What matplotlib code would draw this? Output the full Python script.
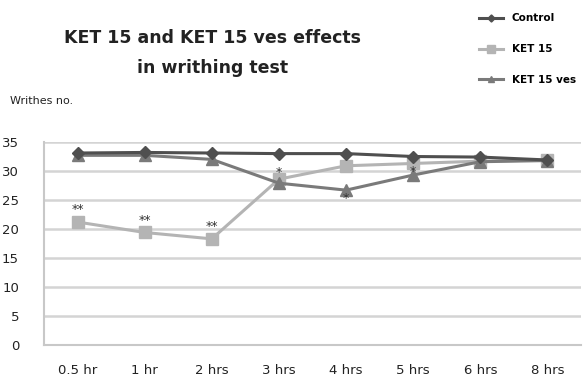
import numpy as np
import matplotlib.pyplot as plt

times = ["0.5 hr", "1 hr", "2 hrs", "3 hrs", "4 hrs", "5 hrs", "6 hrs", "8 hrs"]
control = [33.1, 33.2, 33.1, 33.0, 33.0, 32.5, 32.4, 31.9]
ket15 = [21.2, 19.4, 18.3, 28.6, 30.9, 31.3, 31.7, 31.9]
ket15_ves = [32.7, 32.7, 32.0, 27.9, 26.7, 29.3, 31.6, 31.8]
stars = ["**", "**", "**", "*", "*", "*", "", ""]
star_y = [23.3, 21.5, 20.4, 29.8, 25.2, 30.0, 0, 0]

fig = plt.figure(figsize=(5.85, 3.83), dpi=100)
ax = fig.add_axes([44 / 585, 38 / 383, 537 / 585, 203 / 383])

x = np.arange(len(times))
ax.plot(x, control, color="#4f4f4f", lw=2.2, marker="D", ms=6, label="Control", zorder=4)
ax.plot(x, ket15, color="#b4b4b4", lw=2.2, marker="s", ms=9, label="KET 15", zorder=3)
ax.plot(x, ket15_ves, color="#7a7a7a", lw=2.2, marker="^", ms=8, label="KET 15 ves", zorder=3)

for xi, s, yv in zip(x, stars, star_y):
    if s:
        ax.text(xi, yv, s, ha="center", va="center", fontsize=9, color="#333333", zorder=5)

ax.set_xlim(-0.5, len(times) - 0.5)
ax.set_ylim(0, 35)
ax.set_yticks(range(0, 36, 5))
ax.set_xticks(x)
ax.set_xticklabels(times)
ax.yaxis.grid(True, color="#d4d4d4", lw=1.8)
ax.set_axisbelow(True)
for side in ["top", "right"]:
    ax.spines[side].set_visible(False)
ax.spines["left"].set_color("#c8c8c8")
ax.spines["bottom"].set_color("#c8c8c8")
ax.spines["left"].set_linewidth(1.5)
ax.spines["bottom"].set_linewidth(1.5)
ax.tick_params(length=0, labelsize=9.5, colors="#222222")
ax.tick_params(axis="x", pad=14)
ax.tick_params(axis="y", pad=18)

fig.text(213 / 585, 1 - 38 / 383, "KET 15 and KET 15 ves effects", ha="center",
         va="center", fontsize=12.5, fontweight="bold", color="#222222")
fig.text(213 / 585, 1 - 68 / 383, "in writhing test", ha="center",
         va="center", fontsize=12.5, fontweight="bold", color="#222222")
fig.text(10 / 585, 1 - 101 / 383, "Writhes no.", ha="left", va="center",
         fontsize=8, color="#222222")

leg = ax.legend(loc="upper left", bbox_to_anchor=(470 / 585, 1 - 4 / 383),
                bbox_transform=fig.transFigure, frameon=False, fontsize=7.5,
                handlelength=2.3, labelspacing=2.0, markerscale=0.6)
for t in leg.get_texts():
    t.set_fontweight("bold")

fig.savefig("out.png", dpi=100)
